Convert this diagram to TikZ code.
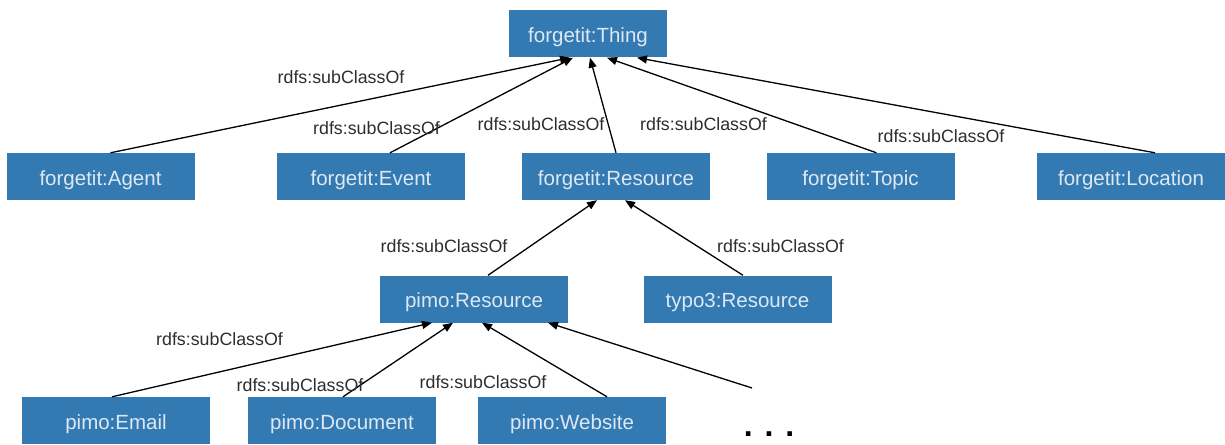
\documentclass[tikz,border=0pt]{standalone}
\usepackage{fontspec}
\setmainfont{Liberation Sans}
\usetikzlibrary{arrows.meta}
\definecolor{boxblue}{RGB}{52,122,178}
\definecolor{boxtext}{RGB}{222,232,242}
\definecolor{labeltext}{RGB}{45,45,45}
\begin{document}
\begin{tikzpicture}[x=1pt,y=-1pt,
  cls/.style={fill=boxblue, text=boxtext, minimum width=188pt, minimum height=47pt,
    inner sep=0pt, text height=17pt, text depth=0pt, font=\fontsize{20.5}{24}\selectfont},
  rel/.style={text=labeltext, inner sep=0pt, anchor=base, font=\fontsize{17.8}{20}\selectfont},
  sub/.style={draw=black, line width=1.3pt, -{Triangle[length=10pt,width=8pt]}}]
\useasboundingbox (0,0) rectangle (1225,444);

% classes
\node[cls, minimum width=158pt] (thing) at (588,34) {forgetit:Thing};
\node[cls] (agent)    at (100.5,176.5) {forgetit:Agent};
\node[cls] (event)    at (371,176.5)   {forgetit:Event};
\node[cls] (resource) at (616,176.5)   {forgetit:Resource};
\node[cls] (topic)    at (860.5,176.5) {forgetit:Topic};
\node[cls] (location) at (1131,176.5)  {forgetit:Location};
\node[cls] (pimo)     at (474,299)     {pimo:Resource};
\node[cls] (typo)     at (737.5,299)   {typo3:Resource};
\node[cls] (email)    at (116,420.5)   {pimo:Email};
\node[cls] (document) at (342,420.5)   {pimo:Document};
\node[cls] (website)  at (572,420.5)   {pimo:Website};
\node[inner sep=0pt, font=\fontsize{32}{34}\selectfont\bfseries] (more) at (769,434.5) {. . .};
\coordinate (moretop) at (752,388);

% subclass relations
\draw[sub] ([xshift=10pt]agent.north)    -- ([xshift=-18pt]thing.south);
\draw[sub] ([xshift=19pt]event.north)    -- ([xshift=-15pt]thing.south);
\draw[sub] (resource.north)              -- ([xshift=2pt]thing.south);
\draw[sub] ([xshift=16pt]topic.north)    -- ([xshift=19pt]thing.south);
\draw[sub] ([xshift=24pt]location.north) -- ([xshift=49pt]thing.south);
\draw[sub] ([xshift=14pt]pimo.north)     -- ([xshift=-19pt]resource.south);
\draw[sub] ([xshift=5.5pt]typo.north)    -- ([xshift=9pt]resource.south);
\draw[sub] ([xshift=-4pt]email.north)    -- ([xshift=-42pt]pimo.south);
\draw[sub] ([xshift=1pt]document.north)  -- ([xshift=-21pt]pimo.south);
\draw[sub] ([xshift=35pt]website.north)  -- ([xshift=8pt]pimo.south);
\draw[sub] (moretop)                     -- ([xshift=74pt]pimo.south);

% relation labels
\node[rel] (l1)  at (341,83)    {rdfs:subClassOf};
\node[rel] (l2)  at (376.5,134) {rdfs:subClassOf};
\node[rel] (l3)  at (541,130)   {rdfs:subClassOf};
\node[rel] (l4)  at (703.5,130) {rdfs:subClassOf};
\node[rel] (l5)  at (941,142)   {rdfs:subClassOf};
\node[rel] (l6)  at (444,252)   {rdfs:subClassOf};
\node[rel] (l7)  at (780.5,252) {rdfs:subClassOf};
\node[rel] (l8)  at (219.5,345) {rdfs:subClassOf};
\node[rel] (l9)  at (300,391)   {rdfs:subClassOf};
\node[rel] (l10) at (483,388)   {rdfs:subClassOf};
\end{tikzpicture}
\end{document}
